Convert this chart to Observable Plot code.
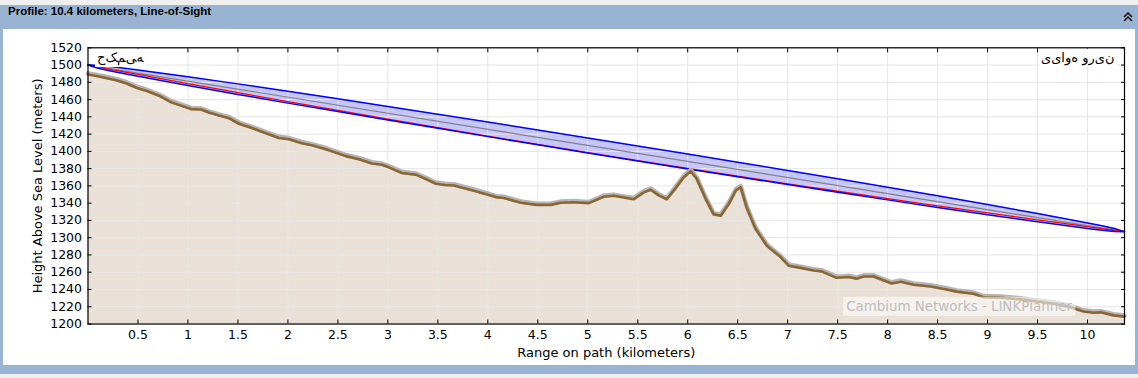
<!DOCTYPE html>
<html>
<head>
<meta charset="utf-8">
<script src="https://cdn.jsdelivr.net/npm/d3@7"></script>
<script src="https://cdn.jsdelivr.net/npm/@observablehq/plot@0.6"></script>
<style>
  html, body { margin: 0; padding: 0; }
  body { width: 1138px; height: 378px; background: #efefef; position: relative; overflow: hidden; }
  #hdr { position: absolute; left: 0; top: 5px; width: 1138px; height: 24px; background: #99b4d2; }
  #title { position: absolute; left: 8px; top: 0; height: 24px; line-height: 22px; font: bold 11.5px "Liberation Sans", Arial, sans-serif; color: #000; white-space: nowrap; }
  #icon { position: absolute; left: 1122px; top: 6px; }
  #panel { position: absolute; left: 0; top: 29px; width: 1138px; height: 336px; background: #fff; box-sizing: border-box; border-left: 3px solid #99b4d2; border-right: 3px solid #99b4d2; }
  #foot { position: absolute; left: 0; top: 365px; width: 1138px; height: 9px; background: #99b4d2; }
  #chart { position: absolute; left: 0; top: 28px; }
</style>
</head>
<body>
<div id="hdr"><div id="title"></div>
  <svg id="icon" width="12" height="12"><polyline points="2,6 6,2 10,6" fill="none" stroke="#000" stroke-width="1.5"/><polyline points="2,10 6,6 10,10" fill="none" stroke="#000" stroke-width="1.5"/></svg>
</div>
<div id="panel"></div>
<div id="foot"></div>
<div id="chart"></div>
<script>
// ---- text ----
const titleText = "Profile: 10.4 kilometers, Line-of-Sight";
const xLabel = "Range on path (kilometers)";
const yLabel = "Height Above Sea Level (meters)";
const siteA = "حکمیه";
const siteB = "نیرو هوایی";
const watermark = "Cambium Networks - LINKPlanner";

// ---- ticks ----
const xTicks = [0.5, 1, 1.5, 2, 2.5, 3, 3.5, 4, 4.5, 5, 5.5, 6, 6.5, 7, 7.5, 8, 8.5, 9, 9.5, 10];
const yTicks = [1200, 1220, 1240, 1260, 1280, 1300, 1320, 1340, 1360, 1380, 1400, 1420, 1440, 1460, 1480, 1500, 1520];
const pathLength = 10.37;

// ---- terrain profile (km, metres) ----
const terrainKm = [0.00,0.10,0.18,0.28,0.38,0.49,0.59,0.71,0.83,0.93,1.03,1.13,1.21,1.31,1.41,1.51,1.64,1.78,1.91,2.01,2.14,2.24,2.38,2.58,2.71,2.84,2.94,3.01,3.14,3.28,3.38,3.48,3.57,3.66,3.86,4.08,4.16,4.33,4.49,4.63,4.73,4.86,5.01,5.16,5.26,5.36,5.46,5.56,5.63,5.71,5.79,5.86,5.96,6.03,6.09,6.18,6.26,6.33,6.41,6.48,6.53,6.59,6.68,6.73,6.79,6.83,6.93,7.01,7.13,7.26,7.34,7.49,7.61,7.69,7.76,7.86,8.04,8.13,8.26,8.43,8.59,8.69,8.86,8.96,9.13,9.33,9.49,9.66,9.83,9.96,10.06,10.13,10.26,10.37];
const terrainHeight = [1489,1487,1485,1482.5,1479,1473.5,1470,1464.5,1457,1453,1449,1448.5,1445,1441.5,1438.5,1432,1427,1421,1415.5,1414,1409.5,1407,1402.5,1394.5,1391,1386,1384.5,1381.5,1375,1373,1368,1362.5,1361,1360.5,1354.5,1347,1346,1340.5,1338,1338,1340.5,1341,1340,1347.5,1348.5,1346.5,1344.5,1352.5,1355.5,1349,1344.5,1354.5,1370,1377,1368.5,1345,1327,1325.5,1339,1354.5,1358.5,1335,1310,1301.5,1291,1287,1277.5,1267.5,1265,1262,1261,1253.5,1254.5,1252.5,1255,1255,1247,1249,1245.5,1243.5,1240,1237.5,1235,1231,1230.5,1228.5,1226,1223.5,1219.5,1214.5,1213,1213.5,1210,1208.5];

// ---- line of sight (grey) ----
const losKm = [0, 10.37];
const losHeight = [1500, 1307];

// ---- Fresnel zone edges (blue) and red clearance line ----
const fresnelKm = [0,0.1,0.25,0.5,1,1.5,2,2.5,3,3.5,4,4.5,5,5.5,6,6.5,7,7.5,8,8.5,9,9.5,10,10.12,10.27,10.37];
const fresnelTop = [1500,1499.8,1498.0,1494.4,1486.5,1478.2,1469.7,1460.9,1452.1,1443.1,1434.1,1424.8,1415.6,1406.3,1396.9,1387.4,1377.9,1368.2,1358.4,1348.5,1338.4,1328.0,1317.1,1314.4,1310.6,1307];
const fresnelBottom = [1500,1496.4,1492.6,1487.0,1476.3,1466.0,1455.9,1446.1,1436.3,1426.7,1417.1,1407.6,1398.2,1388.9,1379.7,1370.6,1361.5,1352.6,1343.8,1335.1,1326.6,1318.4,1310.7,1309.0,1307.2,1307];
const redLine = [1500,1497.8,1494.5,1489.2,1478.5,1468.0,1457.6,1447.4,1437.4,1427.5,1417.7,1408.0,1398.6,1389.3,1380.2,1371.2,1362.4,1353.8,1345.3,1336.9,1328.7,1320.7,1312.8,1310.9,1308.6,1307];

document.getElementById("title").textContent = titleText;

const terrain = terrainKm.map((k, i) => ({km: k, h: terrainHeight[i]}));
const fresnel = fresnelKm.map((k, i) => ({km: k, top: fresnelTop[i], bottom: fresnelBottom[i], red: redLine[i]}));
const los = losKm.map((k, i) => ({km: k, h: losHeight[i]}));

// isolated (unjoined) glyphs as in the reference
const isolate = s => Array.from(s).join("\u200C");
const siteAText = "\u202D" + isolate(siteA) + "\u202C";
const siteBText = "\u202E" + isolate(siteB) + "\u202C";

const font = '"DejaVu Sans", sans-serif';
const gridColor = "#e6e6e6";

const plot = Plot.plot({
  width: 1138,
  height: 337,
  marginLeft: 87.5,
  marginRight: 14,
  marginTop: 19.3,
  marginBottom: 41.5,
  x: {domain: [0, pathLength]},
  y: {domain: [1200, 1520]},
  style: {fontFamily: font, background: "transparent", overflow: "visible", color: "#000"},
  marks: [
    Plot.areaY(terrain, {x: "km", y1: 1200, y2: "h", fill: "#e9e0d7"}),
    Plot.areaY(fresnel, {x: "km", y1: "bottom", y2: "top", fill: "#c6c6fa"}),
    Plot.gridX(xTicks, {stroke: gridColor, strokeOpacity: 1}),
    Plot.gridY(yTicks, {stroke: gridColor, strokeOpacity: 1}),
    Plot.line(los, {x: "km", y: "h", stroke: "#808080", strokeWidth: 1.2}),
    Plot.line(fresnel, {x: "km", y: "red", stroke: "#ff0000", strokeWidth: 1.3}),
    Plot.line(fresnel, {x: "km", y: "top", stroke: "#0000ff", strokeWidth: 1.5}),
    Plot.line(fresnel, {x: "km", y: "bottom", stroke: "#0000ff", strokeWidth: 1.5}),
    Plot.line(terrain, {x: "km", y: "h", stroke: "#b5b5b5", strokeWidth: 4.5, dy: -1.2}),
    Plot.line(terrain, {x: "km", y: "h", stroke: "#8c6631", strokeWidth: 2.6}),
    Plot.frame({stroke: "#000", strokeWidth: 1.2}),
    Plot.axisX({anchor: "bottom", ticks: xTicks, tickSize: -4, tickPadding: 10.5, fontSize: 12.5, label: null, tickFormat: d => String(d)}),
    Plot.axisX({anchor: "top", ticks: xTicks, tickSize: -4, tickPadding: 0, label: null, tickFormat: () => ""}),
    Plot.axisY({anchor: "left", ticks: yTicks, tickSize: -4, tickPadding: 10, fontSize: 12.5, label: null, tickFormat: d => String(d)}),
    Plot.axisY({anchor: "right", ticks: yTicks, tickSize: -4, tickPadding: 0, label: null, tickFormat: () => ""}),
    Plot.text([xLabel], {frameAnchor: "bottom", dy: 28.5, lineAnchor: "middle", fontSize: 13, text: d => d}),
    Plot.text([yLabel], {frameAnchor: "left", dx: -50.5, lineAnchor: "middle", textAnchor: "middle", rotate: -90, fontSize: 13, text: d => d}),
    Plot.text([siteAText], {frameAnchor: "top-left", dx: 9, dy: 10, lineAnchor: "middle", textAnchor: "start", fontSize: 13, text: d => d}),
    Plot.text([siteBText], {frameAnchor: "top-right", dx: -10, dy: 10, lineAnchor: "middle", textAnchor: "end", fontSize: 13, text: d => d}),
    Plot.text([watermark], {frameAnchor: "bottom-right", dx: -165.5, dy: -17.5, lineAnchor: "middle", textAnchor: "middle", fontSize: 13.4, fill: "#bdbdbd", text: d => d})
  ]
});
document.getElementById("chart").appendChild(plot);

// label boxes (white background behind the in-plot labels)
d3.select(plot).selectAll("text").each(function() {
  const t = this.textContent;
  let fill = null, pad = 2;
  if (t === siteAText || t === siteBText) { fill = "#ffffff"; }
  if (t === watermark) { fill = "rgba(255,255,255,0.55)"; pad = 3; }
  if (!fill) return;
  const b = this.getBBox();
  const r = document.createElementNS("http://www.w3.org/2000/svg", "rect");
  r.setAttribute("x", b.x - pad);
  r.setAttribute("y", b.y - pad + 1);
  r.setAttribute("width", b.width + 2 * pad);
  r.setAttribute("height", b.height + 2 * pad - 2);
  r.setAttribute("fill", fill);
  if (this.getAttribute("transform")) r.setAttribute("transform", this.getAttribute("transform"));
  this.parentNode.insertBefore(r, this);
});
</script>
</body>
</html>
